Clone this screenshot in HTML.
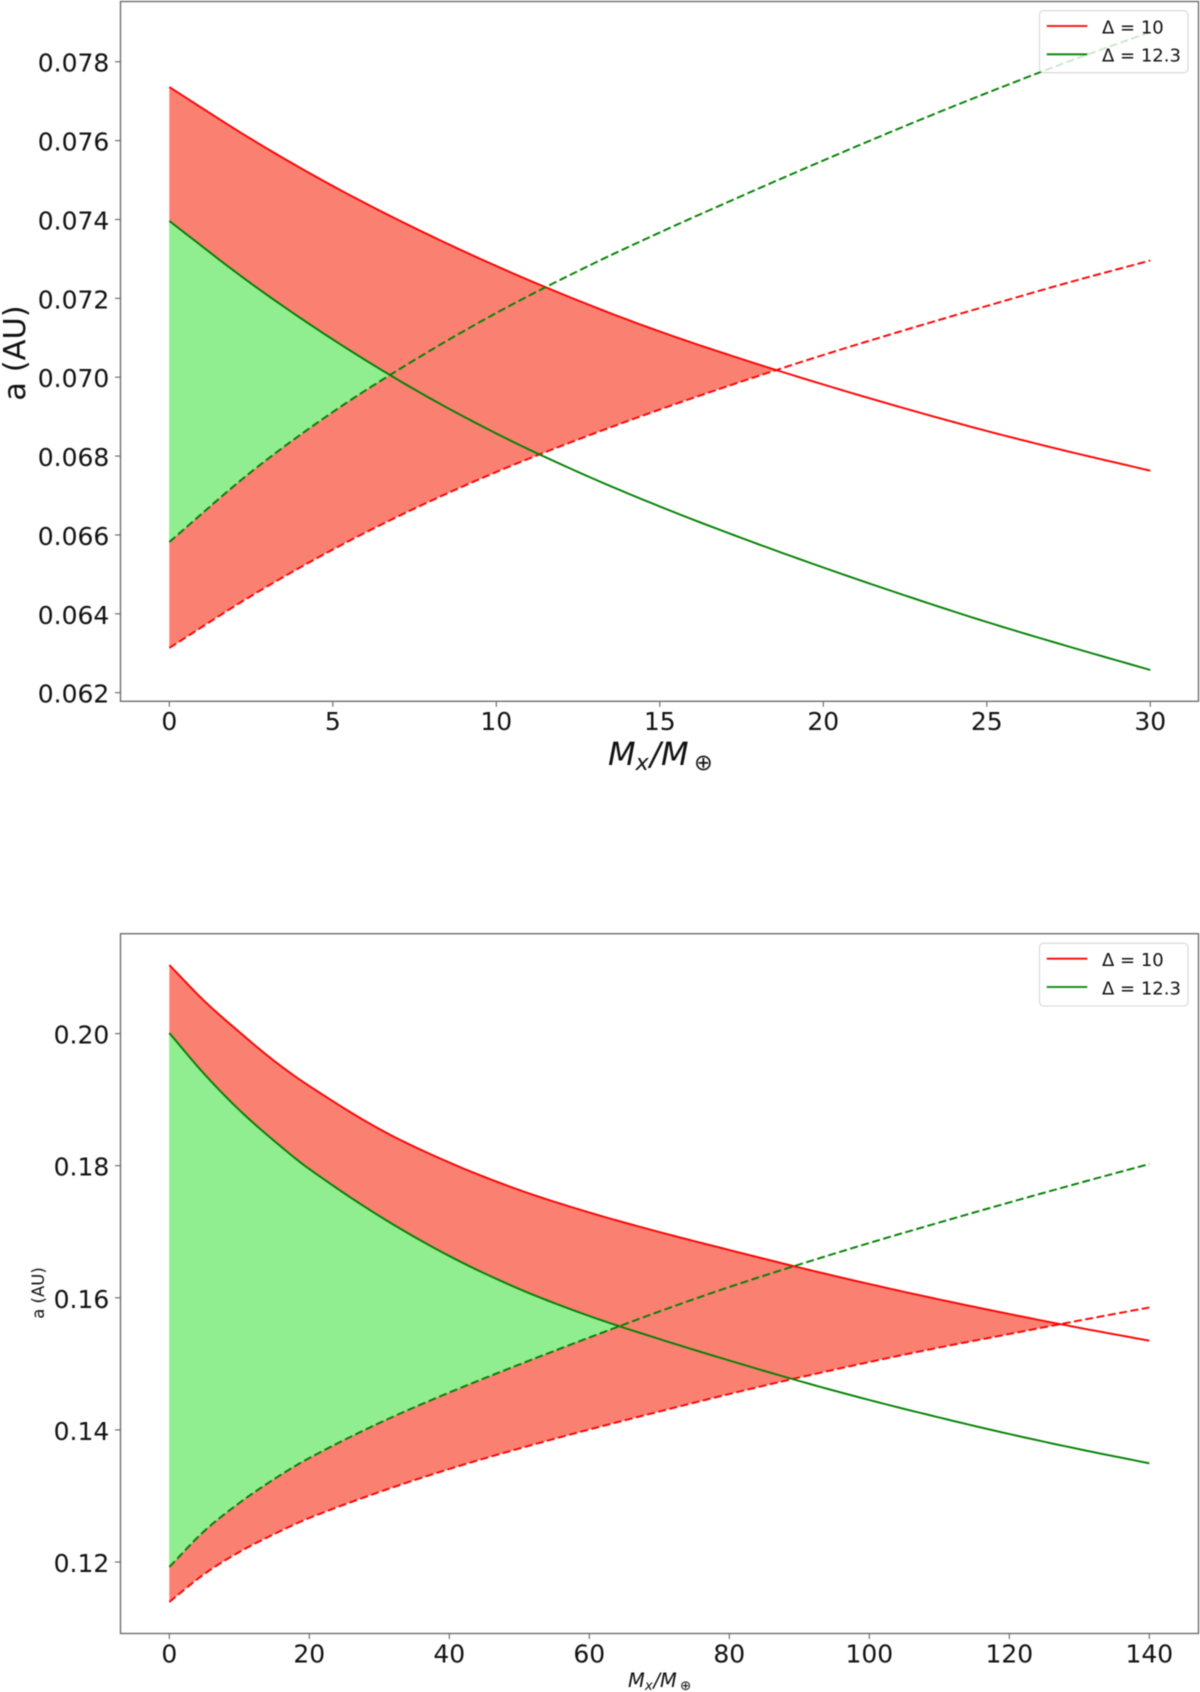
<!DOCTYPE html>
<html lang="en">
<head>
<meta charset="utf-8">
<title>Semi-major axis versus planet mass</title>
<style>
html,body{margin:0;padding:0;background:#fff;width:1200px;height:1692px;overflow:hidden}
svg{display:block;filter:blur(0.5px)}
text{font-family:"DejaVu Sans","Liberation Sans",sans-serif;fill:#111}
.it{font-style:italic}
</style>
</head>
<body>
<svg id="figure" xmlns="http://www.w3.org/2000/svg" width="1200" height="1692" viewBox="0 0 1200 1692">
  <g id="panel-top">
    <g id="top-marks"></g>
    <g id="top-axes"></g>
    <rect x="120.5" y="1.5" width="1078" height="699.8" fill="none" stroke="#6e6e6e" stroke-width="1.4"/>
    <text transform="translate(25,353) rotate(-90)" text-anchor="middle" font-size="30.5">a (AU)</text>
    <g font-size="32">
      <text class="it" x="608" y="765">M</text>
      <text class="it" x="635.5" y="770" font-size="22.4">x</text>
      <text class="it" x="650" y="765">/</text>
      <text class="it" x="661" y="765">M</text>
      <text x="694" y="770" font-size="22.4">⊕</text>
    </g>
    <g>
      <rect x="1039.5" y="10.7" width="148.5" height="62" rx="4" fill="#fff" fill-opacity="0.8" stroke="#ccc" stroke-opacity="0.8" stroke-width="1.1"/>
      <line x1="1046.7" x2="1087.3" y1="26" y2="26" stroke="#ff0000" stroke-width="1.8"/>
      <text x="1102" y="33.3" font-size="18">Δ = 10</text>
      <line x1="1046.7" x2="1087.3" y1="54.3" y2="54.3" stroke="#008000" stroke-width="1.8"/>
      <text x="1102" y="61.7" font-size="18">Δ = 12.3</text>
    </g>
  </g>
  <g id="panel-bottom">
    <g id="bottom-marks"></g>
    <g id="bottom-axes"></g>
    <rect x="120.5" y="933.7" width="1078" height="699.8" fill="none" stroke="#6e6e6e" stroke-width="1.4"/>
    <text transform="translate(44,1293) rotate(-90)" text-anchor="middle" font-size="16.5">a (AU)</text>
    <g font-size="19.5">
      <text class="it" x="628" y="1687">M</text>
      <text class="it" x="644.8" y="1690" font-size="13.6">x</text>
      <text class="it" x="653.5" y="1687">/</text>
      <text class="it" x="660" y="1687">M</text>
      <text x="680" y="1690" font-size="13.6">⊕</text>
    </g>
    <g>
      <rect x="1039.5" y="943.3" width="148.5" height="62.7" rx="4" fill="#fff" fill-opacity="0.8" stroke="#ccc" stroke-opacity="0.8" stroke-width="1.1"/>
      <line x1="1046.7" x2="1087.3" y1="958.7" y2="958.7" stroke="#ff0000" stroke-width="1.8"/>
      <text x="1102" y="966" font-size="18">Δ = 10</text>
      <line x1="1046.7" x2="1087.3" y1="987" y2="987" stroke="#008000" stroke-width="1.8"/>
      <text x="1102" y="994.7" font-size="18">Δ = 12.3</text>
    </g>
  </g>
</svg>
<script>
// ---- Top chart data ----
const topMass = [0, 2.5, 5, 7.5, 10, 12.5, 15, 17.5, 20, 22.5, 25, 27.5, 30];
const topRedOuter = [0.077359, 0.076041, 0.074849, 0.073784, 0.072820, 0.071945, 0.071159, 0.070462, 0.069815, 0.069207, 0.068636, 0.068116, 0.067630];
const topRedInner = [0.063134, 0.064452, 0.065631, 0.066671, 0.067597, 0.068421, 0.069181, 0.069891, 0.070564, 0.071197, 0.071806, 0.072402, 0.072960];
const topGreenOuter = [0.073962, 0.072377, 0.070957, 0.069689, 0.068573, 0.067597, 0.066722, 0.065923, 0.065175, 0.064465, 0.063793, 0.063172, 0.062576];
const topGreenInner = [0.065821, 0.067597, 0.069118, 0.070437, 0.071629, 0.072693, 0.073670, 0.074595, 0.075496, 0.076370, 0.077207, 0.078006, 0.078754];
const topXTicks = [0, 5, 10, 15, 20, 25, 30];
const topYTicks = [0.062, 0.064, 0.066, 0.068, 0.070, 0.072, 0.074, 0.076, 0.078];

// ---- Bottom chart data ----
const bottomMass = [0, 5, 10, 15, 20, 30, 40, 50, 60, 70, 80, 90, 100, 110, 120, 130, 140];
const bottomRedOuter = [0.210386, 0.204936, 0.200242, 0.195852, 0.192067, 0.185556, 0.180484, 0.176321, 0.172914, 0.169962, 0.167237, 0.164588, 0.162089, 0.159743, 0.157547, 0.155458, 0.153505];
const bottomRedInner = [0.113944, 0.118183, 0.121514, 0.124239, 0.126662, 0.130598, 0.134080, 0.137184, 0.140061, 0.142786, 0.145435, 0.147933, 0.150280, 0.152476, 0.154519, 0.156563, 0.158532];
const bottomGreenOuter = [0.200091, 0.193883, 0.188433, 0.183740, 0.179500, 0.172385, 0.166329, 0.161332, 0.157244, 0.153762, 0.150507, 0.147403, 0.144527, 0.141877, 0.139379, 0.137078, 0.134943];
const bottomGreenInner = [0.119243, 0.124693, 0.128933, 0.132566, 0.135746, 0.141045, 0.145662, 0.149902, 0.153989, 0.157926, 0.161635, 0.165042, 0.168297, 0.171401, 0.174429, 0.177381, 0.180257];
const bottomXTicks = [0, 20, 40, 60, 80, 100, 120, 140];
const bottomYTicks = [0.12, 0.14, 0.16, 0.18, 0.20];

const NS = 'http://www.w3.org/2000/svg';
function mk(tag, attrs, parent) {
  const el = document.createElementNS(NS, tag);
  for (const k in attrs) el.setAttribute(k, attrs[k]);
  parent.appendChild(el);
  return el;
}

// Smooth curve through the read values (cubic Hermite), in data space.
function smooth(xs, ys) {
  const n = xs.length, m = [], out = [];
  for (let i = 0; i < n; i++) {
    if (i === 0) m[i] = (ys[1] - ys[0]) / (xs[1] - xs[0]);
    else if (i === n - 1) m[i] = (ys[n - 1] - ys[n - 2]) / (xs[n - 1] - xs[n - 2]);
    else m[i] = (ys[i + 1] - ys[i - 1]) / (xs[i + 1] - xs[i - 1]);
  }
  const steps = 10;
  for (let i = 0; i < n - 1; i++) {
    const h = xs[i + 1] - xs[i];
    for (let s = 0; s < steps; s++) {
      const t = s / steps, t2 = t * t, t3 = t2 * t;
      out.push([
        xs[i] + h * t,
        (2 * t3 - 3 * t2 + 1) * ys[i] + (t3 - 2 * t2 + t) * h * m[i] +
        (-2 * t3 + 3 * t2) * ys[i + 1] + (t3 - t2) * h * m[i + 1]
      ]);
    }
  }
  out.push([xs[n - 1], ys[n - 1]]);
  return out;
}

function pointsToPath(pts, sx, sy) {
  return pts.map(function (p, i) {
    return (i ? 'L' : 'M') + sx(p[0]).toFixed(2) + ' ' + sy(p[1]).toFixed(2);
  }).join('');
}

// Region between the outer and inner curve, up to the point where they cross.
function regionPath(outer, inner, sx, sy) {
  const top = [], low = [];
  for (let i = 0; i < outer.length; i++) {
    const d = outer[i][1] - inner[i][1];
    if (d < 0) {
      if (i > 0) {
        const dp = outer[i - 1][1] - inner[i - 1][1];
        const f = dp / (dp - d);
        const cx = outer[i - 1][0] + f * (outer[i][0] - outer[i - 1][0]);
        const cy = outer[i - 1][1] + f * (outer[i][1] - outer[i - 1][1]);
        top.push([cx, cy]);
      }
      break;
    }
    top.push(outer[i]);
    low.push(inner[i]);
  }
  return pointsToPath(top.concat(low.reverse()), sx, sy) + 'Z';
}

function drawPanel(prefix, xVals, redOuter, redInner, greenOuter, greenInner, xTicks, yTicks, digits, sx, sy, spineBottom, labelBaseline) {
  const marks = document.getElementById(prefix + '-marks');
  const axes = document.getElementById(prefix + '-axes');
  const ro = smooth(xVals, redOuter), ri = smooth(xVals, redInner);
  const go = smooth(xVals, greenOuter), gi = smooth(xVals, greenInner);

  const redFill = mk('path', { d: regionPath(ro, ri, sx, sy), fill: '#fa8072' }, marks);
  
  

  const greenFill = mk('path', { d: regionPath(go, gi, sx, sy), fill: '#90ee90' }, marks);
  
  

  const lineStyle = { fill: 'none', 'stroke-width': 1.9, 'stroke-linejoin': 'round' };

  const redSolid = mk('path', Object.assign({ d: pointsToPath(ro, sx, sy), stroke: '#ff0000' }, lineStyle), marks);
  
  

  const redDashed = mk('path', Object.assign({ d: pointsToPath(ri, sx, sy), stroke: '#ff0000', 'stroke-dasharray': '8 3.5' }, lineStyle), marks);
  
  

  const greenSolid = mk('path', Object.assign({ d: pointsToPath(go, sx, sy), stroke: '#008000' }, lineStyle), marks);
  
  

  const greenDashed = mk('path', Object.assign({ d: pointsToPath(gi, sx, sy), stroke: '#008000', 'stroke-dasharray': '8 3.5' }, lineStyle), marks);
  
  

  xTicks.forEach(function (t) {
    const tick = mk('line', { x1: sx(t), x2: sx(t), y1: spineBottom, y2: spineBottom + 5.5, stroke: '#555', 'stroke-width': 1 }, axes);
    
    
    const label = mk('text', { x: sx(t), y: labelBaseline, 'text-anchor': 'middle', 'font-size': 25 }, axes);
    
    
    label.textContent = String(t);
  });

  yTicks.forEach(function (t) {
    const tick = mk('line', { x1: 115, x2: 120.5, y1: sy(t), y2: sy(t), stroke: '#555', 'stroke-width': 1 }, axes);
    
    
    const label = mk('text', { x: 109.3, y: sy(t) + 10, 'text-anchor': 'end', 'font-size': 25 }, axes);
    
    
    label.textContent = t.toFixed(digits);
  });
}

function topXScale(v) { return 169.3 + v * 32.7; }
function topYScale(v) { return 692.7 - (v - 0.062) * 39435; }
function bottomXScale(v) { return 169.3 + v * 7; }
function bottomYScale(v) { return 1562 - (v - 0.12) * 6605; }

drawPanel('top', topMass, topRedOuter, topRedInner, topGreenOuter, topGreenInner,
  topXTicks, topYTicks, 3, topXScale, topYScale, 701.3, 730);
drawPanel('bottom', bottomMass, bottomRedOuter, bottomRedInner, bottomGreenOuter, bottomGreenInner,
  bottomXTicks, bottomYTicks, 2, bottomXScale, bottomYScale, 1633.5, 1662.5);
</script>
</body>
</html>
